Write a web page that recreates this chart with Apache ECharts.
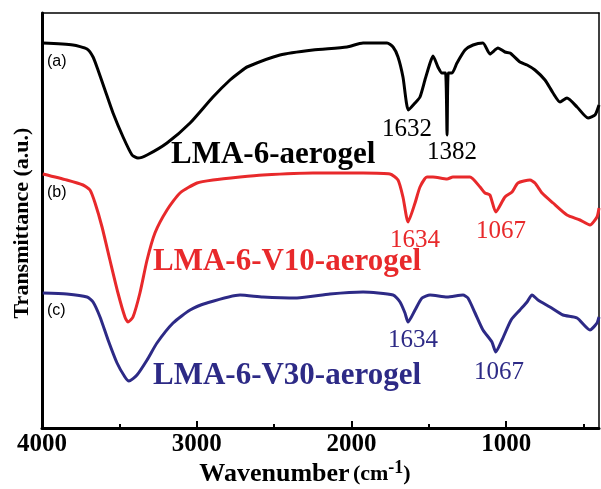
<!DOCTYPE html>
<html>
<head>
<meta charset="utf-8">
<script src="https://cdn.jsdelivr.net/npm/echarts@6/dist/echarts.min.js"></script>
<style>
  html, body { margin: 0; padding: 0; background: #fff; }
  #chart { width: 601px; height: 489px; }
</style>
</head>
<body>
<div id="chart"></div>
<script>
// wavenumber (cm-1), transmittance (a.u.)
const curveA = [
  [3995, 385], [3800, 383], [3709, 379], [3670, 371], [3638, 358], [3593, 338],
  [3541, 315], [3476, 291], [3418, 273], [3380, 270], [3321, 273], [3192, 285],
  [3043, 305], [2895, 331], [2785, 348], [2720, 356], [2675, 361], [2462, 373],
  [2249, 378], [2029, 381], [1925, 385], [1770, 385], [1731, 381], [1699, 371],
  [1667, 351], [1632, 318], [1589, 325], [1557, 331], [1525, 348], [1492, 365],
  [1473, 372], [1441, 361], [1415, 355], [1392, 355], [1382, 293], [1374, 355],
  [1350, 355], [1318, 365], [1266, 378], [1214, 383], [1150, 385], [1105, 374],
  [1053, 380], [1008, 376], [975, 375], [911, 366], [865, 363], [814, 358],
  [749, 348], [697, 335], [652, 326], [607, 330], [542, 321], [471, 310],
  [426, 313], [400, 323]
]
const curveB = [
  [3995, 254], [3840, 248], [3735, 243], [3690, 238], [3657, 225], [3612, 201],
  [3561, 168], [3509, 135], [3464, 111], [3444, 106], [3412, 111], [3367, 135],
  [3321, 168], [3270, 195], [3192, 218], [3108, 235], [2998, 245], [2895, 248],
  [2720, 251], [2572, 253], [2249, 255], [1925, 255], [1751, 254], [1699, 248],
  [1667, 231], [1634, 206], [1589, 225], [1557, 241], [1512, 251], [1473, 251],
  [1382, 249], [1344, 251], [1234, 251], [1169, 241], [1137, 235], [1105, 233],
  [1067, 216], [1008, 231], [962, 236], [924, 245], [846, 248], [814, 245],
  [768, 235], [697, 225], [607, 213], [523, 208], [458, 203], [413, 211], [400, 220]
]
const curveC = [
  [3995, 135], [3840, 134], [3709, 131], [3670, 126], [3625, 111], [3573, 88],
  [3515, 65], [3464, 51], [3438, 47], [3386, 53], [3321, 68], [3257, 85],
  [3153, 105], [3043, 118], [2934, 125], [2720, 133], [2572, 131], [2352, 130],
  [2139, 134], [1925, 136], [1731, 133], [1686, 126], [1654, 115], [1634, 106],
  [1589, 118], [1544, 130], [1492, 133], [1382, 131], [1279, 133], [1247, 130],
  [1201, 115], [1150, 98], [1092, 86], [1067, 76], [1027, 88], [968, 108],
  [911, 118], [865, 126], [833, 133], [794, 128], [717, 121], [633, 113],
  [542, 110], [458, 98], [413, 105], [400, 111]
]
const majorTicks = [1000, 2000, 3000, 4000]
const minorTicks = [500, 1500, 2500, 3500]
const sampleNames = ['LMA-6-aerogel', 'LMA-6-V10-aerogel', 'LMA-6-V30-aerogel']
const curveTags = ['(a)', '(b)', '(c)']
const colors = ['#000000', '#e8292b', '#2d2a86']

const serif = '"Liberation Serif", "Times New Roman", serif'
const sans = '"Liberation Sans", Arial, sans-serif'

const chart = echarts.init(document.getElementById('chart'), null, { renderer: 'canvas' })

const xBase = { type: 'value', min: 400, max: 4000, inverse: true, splitLine: { show: false } }

const peakText = (txt, x, y, color) => ({
  type: 'text', x, y,
  style: { text: txt, fill: color, font: '25px ' + serif, align: 'center', verticalAlign: 'middle' }
})
const nameText = (txt, x, y, color) => ({
  type: 'text', x, y,
  style: { text: txt, fill: color, font: 'bold 31px ' + serif, align: 'left', verticalAlign: 'middle' }
})
const tagText = (txt, y) => ({
  type: 'text', x: 47, y,
  style: { text: txt, fill: '#000', font: '16px ' + sans, align: 'left', verticalAlign: 'middle' }
})

chart.setOption({
  animation: false,
  backgroundColor: '#fff',
  grid: { left: 42, right: 2, top: 13, bottom: 61 },
  xAxis: [
    {
      ...xBase,
      position: 'bottom',
      axisLine: { lineStyle: { color: '#000', width: 3 } },
      axisTick: { inside: true, length: 7, lineStyle: { color: '#000', width: 2 }, customValues: majorTicks },
      axisLabel: {
        customValues: majorTicks, margin: 4, color: '#000',
        fontFamily: serif, fontWeight: 'bold', fontSize: 25,
        formatter: v => String(v)
      }
    },
    {
      ...xBase,
      position: 'bottom',
      axisLine: { show: false },
      axisTick: { inside: true, length: 4, lineStyle: { color: '#000', width: 2 }, customValues: minorTicks },
      axisLabel: { show: false }
    },
    {
      ...xBase,
      position: 'top',
      axisLine: { lineStyle: { color: '#000', width: 1.5 } },
      axisTick: { show: false },
      axisLabel: { show: false }
    }
  ],
  yAxis: [
    {
      type: 'value', min: 0, max: 415, position: 'left',
      axisLine: { show: true, lineStyle: { color: '#000', width: 3 } },
      axisTick: { show: false }, axisLabel: { show: false }, splitLine: { show: false }
    },
    {
      type: 'value', min: 0, max: 415, position: 'right',
      axisLine: { show: true, lineStyle: { color: '#000', width: 1.5 } },
      axisTick: { show: false }, axisLabel: { show: false }, splitLine: { show: false }
    }
  ],
  series: [curveA, curveB, curveC].map((d, i) => ({
    name: sampleNames[i],
    type: 'line',
    data: d,
    xAxisIndex: 0,
    yAxisIndex: 0,
    showSymbol: false,
    smooth: 0.2,
    lineStyle: { color: colors[i], width: 3 }
  })),
  graphic: [
    tagText(curveTags[0], 62),
    tagText(curveTags[1], 193),
    tagText(curveTags[2], 311),
    nameText(sampleNames[0], 171, 155, colors[0]),
    nameText(sampleNames[1], 153, 262, colors[1]),
    nameText(sampleNames[2], 153, 376, colors[2]),
    peakText('1632', 407, 129, colors[0]),
    peakText('1382', 452, 152, colors[0]),
    peakText('1634', 415, 240, colors[1]),
    peakText('1067', 501, 231, colors[1]),
    peakText('1634', 413, 340, colors[2]),
    peakText('1067', 499, 372, colors[2]),
    {
      type: 'text', x: 22, y: 223, rotation: Math.PI / 2,
      style: {
        text: 'Transmittance (a.u.)', fill: '#000', font: 'bold 22px ' + serif,
        align: 'center', verticalAlign: 'middle'
      }
    },
    {
      type: 'text', x: 305, y: 474,
      style: {
        text: '{m|Wavenumber} {s|(cm}{p|-1}{s|)}',
        fill: '#000', align: 'center', verticalAlign: 'middle',
        rich: {
          m: { font: 'bold 26px ' + serif, fill: '#000' },
          s: { font: 'bold 22px ' + serif, fill: '#000' },
          p: { font: 'bold 18px ' + serif, fill: '#000', verticalAlign: 'top', padding: [0, 0, 12, 0] }
        }
      }
    }
  ]
})
</script>
</body>
</html>
